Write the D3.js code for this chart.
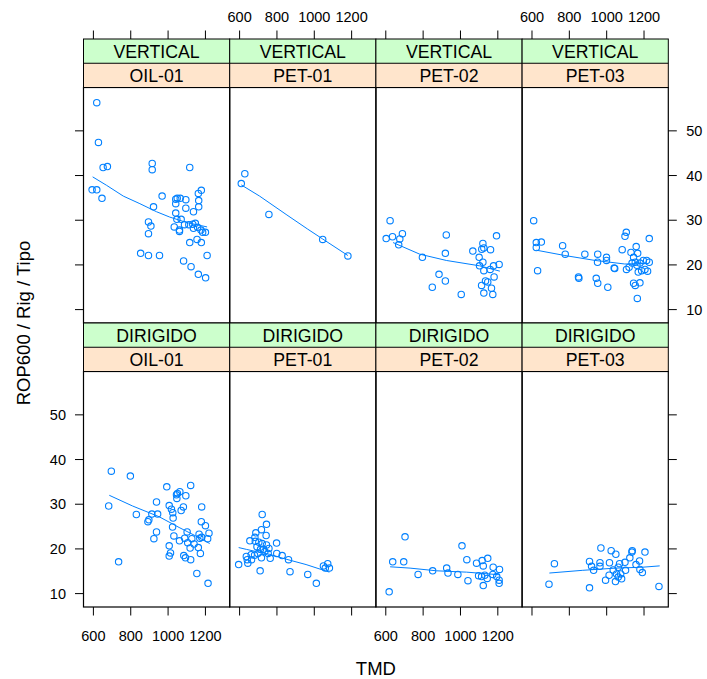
<!DOCTYPE html>
<html>
<head>
<meta charset="utf-8">
<script src="https://cdn.jsdelivr.net/npm/d3@7"></script>
<style>
  body { margin: 0; background: #fff; }
  text { font-family: "Liberation Sans", Arial, Helvetica, sans-serif; fill: #000; }
</style>
</head>
<body>
<svg id="main_chart" width="707" height="679"></svg>
<script>
const tipos = ['VERTICAL', 'DIRIGIDO'];
const rigs = ['OIL-01', 'PET-01', 'PET-02', 'PET-03'];
const x_ticks = [600, 800, 1000, 1200];
const y_ticks = [10, 20, 30, 40, 50];

// [TMD, ROP600]
const vertical_oil01 = [[618,56.3],[627,47.4],[652,41.8],[675,42.0],[593,36.8],[618,36.8],[646,34.9],[915,42.7],[915,41.3],[1116,41.8],
  [968,35.4],[922,33.0],[895,29.6],[908,28.7],[895,27.0],[853,22.6],[895,22.1],[954,22.1],[1041,34.7],[1049,34.9],[1065,34.9],[1095,34.6],
  [1041,33.7],[1095,32.7],[1162,36.0],[1178,36.7],[1164,34.4],[1164,33.0],[1136,31.9],[1041,31.6],[1047,30.2],[1070,30.2],[1033,28.5],
  [1061,27.8],[1061,27.5],[1088,29.0],[1111,29.0],[1132,29.1],[1146,29.3],[1136,28.2],[1158,28.4],[1176,27.8],[1185,27.3],[1200,27.3],
  [1116,25.0],[1155,25.7],[1178,25.0],[1209,22.1],[1083,20.9],[1123,19.6],[1162,17.9],[1201,17.1]];
const vertical_pet01 = [[628,40.4],[609,38.2],[757,31.3],[1045,25.7],[1180,22.0]];
const vertical_pet02 = [[623,29.9],[602,25.9],[636,26.3],[675,25.8],[689,27.0],[669,24.5],[796,21.7],[924,26.7],[919,22.6],[885,17.9],
  [919,16.4],[849,15.0],[1004,13.4],[1066,23.1],[1120,24.8],[1125,23.8],[1114,23.5],[1161,23.4],[1193,26.5],[1100,21.7],[1120,20.6],
  [1102,19.8],[1125,18.7],[1159,19.0],[1177,19.8],[1207,20.1],[1180,17.3],[1134,16.4],[1146,16.2],[1113,15.4],[1166,14.8],[1125,13.7],[1173,13.4]];
const vertical_pet03 = [[609,29.9],[623,25.0],[623,23.9],[650,25.1],[630,18.7],[764,24.3],[778,22.4],[883,22.4],[952,22.4],[951,20.6],
  [999,21.7],[999,21.0],[849,17.3],[851,17.0],[944,17.0],[952,15.9],[1006,15.0],[1040,19.3],[1043,19.2],[1083,23.4],[1098,26.4],[1105,27.3],
  [1158,24.1],[1130,22.8],[1166,22.6],[1144,21.7],[1136,20.4],[1153,20.6],[1162,19.9],[1106,19.0],[1120,19.5],[1169,18.4],[1187,18.7],
  [1205,19.0],[1214,21.0],[1228,20.6],[1219,18.6],[1196,21.0],[1178,20.4],[1228,25.9],[1144,15.9],[1153,15.4],[1178,16.0],[1164,12.5]];
const dirigido_oil01 = [[696,37.4],[682,29.6],[735,17.1],[798,36.3],[830,27.7],[892,26.1],[897,26.5],[913,27.8],[944,27.8],[938,30.5],
  [938,23.8],[924,22.3],[993,33.9],[1006,29.7],[1018,28.9],[1025,28.1],[1027,26.9],[1024,24.9],[1031,22.9],[1045,32.1],[1050,32.4],
  [1063,32.8],[1047,31.3],[1070,28.6],[1061,21.8],[1006,20.7],[1013,19.1],[1006,18.4],[1084,18.5],[1093,18.0],[1121,17.6],[1082,29.4],
  [1095,31.9],[1121,34.2],[1089,22.4],[1102,23.8],[1105,21.4],[1118,20.2],[1127,22.3],[1139,21.1],[1166,23.3],[1170,22.4],[1162,20.3],
  [1173,19.0],[1154,14.5],[1180,29.4],[1178,26.1],[1200,25.2],[1219,23.5],[1212,22.3],[1214,12.3],[1180,22.6]];
const dirigido_pet01 = [[721,27.7],[744,25.5],[717,24.3],[687,23.6],[742,23.0],[655,21.8],[682,22.6],[684,21.7],[798,21.3],[721,21.2],
  [744,20.9],[693,20.5],[712,19.9],[728,19.9],[757,20.1],[735,19.4],[753,19.0],[799,19.0],[828,18.5],[698,19.0],[680,18.6],[636,18.3],
  [641,17.6],[664,17.6],[717,18.0],[764,17.9],[862,17.6],[595,16.5],[644,16.8],[710,15.1],[870,14.9],[965,14.3],[1011,12.3],[1049,16.2],
  [1072,16.7],[1081,15.7],[1059,15.7],[662,18.7],[703,21.5]];
const dirigido_pet02 = [[703,22.7],[618,10.4],[637,17.1],[696,17.1],[773,14.3],[851,15.1],[926,15.7],[933,14.6],[986,14.3],[1008,20.7],
  [1034,17.6],[1040,12.9],[1086,16.8],[1116,17.4],[1146,17.9],[1122,16.2],[1175,15.9],[1209,15.4],[1097,14.0],[1113,13.8],[1143,13.4],
  [1122,11.8],[1173,14.3],[1194,13.8],[1207,13.0],[1207,12.3],[1130,14.1]];
const dirigido_pet03 = [[720,16.7],[691,12.1],[908,11.3],[908,17.2],[919,16.1],[930,15.2],[964,16.9],[964,16.1],[969,20.2],[1015,16.9],
  [1024,19.6],[1049,18.8],[994,13.0],[1013,14.1],[1035,15.3],[1053,14.4],[1047,12.7],[1062,13.7],[1080,13.3],[1069,16.7],[1062,15.9],
  [1098,17.0],[1101,15.2],[1124,18.0],[1137,19.6],[1135,19.3],[1157,16.5],[1176,17.3],[1178,15.4],[1191,14.7],[1205,19.3],[1280,11.6],[1075,14.4]];

// loess curves
const smooth_vertical = [
  [[596,39.7],[671,37.8],[760,35.4],[849,33.7],[938,31.9],[1009,30.7],[1098,29.5],[1209,28.5]],
  [[609,37.9],[707,35.4],[849,31.3],[965,28.0],[1045,25.8],[1180,22.1]],
  [[639,25.0],[782,22.4],[924,21.0],[1102,19.8],[1211,18.6]],
  [[623,23.3],[776,22.1],[938,21.0],[1097,20.2],[1218,20.3]]
];
const smooth_dirigido = [
  [[685,32.0],[810,29.6],[952,27.2],[1059,24.8],[1148,22.9],[1223,21.2]],
  [[595,20.3],[636,19.9],[689,19.4],[760,18.8],[849,17.7],[956,16.5],[1081,14.8]],
  [[623,16.0],[730,15.7],[872,15.1],[1033,14.8],[1211,14.2]],
  [[693,14.6],[869,15.2],[1048,15.7],[1191,15.9],[1284,16.2]]
];

const points = [
  [vertical_oil01, vertical_pet01, vertical_pet02, vertical_pet03],
  [dirigido_oil01, dirigido_pet01, dirigido_pet02, dirigido_pet03]
];
const smooths = [smooth_vertical, smooth_dirigido];

const svg = d3.select('#main_chart');
const left = 83.5, panel_w = 146.2, strip_h = 24.25, panel_h = 235.5, top0 = 39;
const row_top = function(r) { return top0 + r * (2 * strip_h + panel_h); };
const blue = '#0080ff';
const tick_len = 8.5;

const xScale = d3.scaleLinear().domain([547, 1330]).range([0, panel_w]);
const yScale = d3.scaleLinear().domain([7.0, 59.7]).range([panel_h, 0]);

tipos.forEach(function(tipo, r) {
  rigs.forEach(function(rig, c) {
    const px = left + c * panel_w;
    const py = row_top(r) + 2 * strip_h;
    const g = svg.append('g').attr('transform', 'translate(' + px + ',' + py + ')');

    // strips
    const sg = svg.append('g').attr('transform', 'translate(' + px + ',' + row_top(r) + ')');
    sg.append('rect').attr('width', panel_w).attr('height', strip_h).attr('fill', '#ccffcc');
    sg.append('rect').attr('y', strip_h).attr('width', panel_w).attr('height', strip_h).attr('fill', '#ffe5cc');
    sg.append('text').attr('x', panel_w / 2).attr('y', strip_h / 2 + 6.5).attr('text-anchor', 'middle')
      .style('font-size', '17.7px').text(tipo);
    sg.append('text').attr('x', panel_w / 2).attr('y', strip_h * 1.5 + 6.5).attr('text-anchor', 'middle')
      .style('font-size', '17.7px').text(rig);
    sg.append('rect').attr('width', panel_w).attr('height', strip_h * 2).attr('fill', 'none').attr('stroke', '#000');
    sg.append('line').attr('x1', 0).attr('x2', panel_w).attr('y1', strip_h).attr('y2', strip_h).attr('stroke', '#000');

    const line = d3.line().x(function(d) { return xScale(d[0]); }).y(function(d) { return yScale(d[1]); });
    g.append('path').datum(smooths[r][c]).attr('d', line).attr('fill', 'none').attr('stroke', blue).attr('stroke-width', 1);

    g.selectAll('circle').data(points[r][c]).enter().append('circle')
      .attr('cx', function(d) { return xScale(d[0]); })
      .attr('cy', function(d) { return yScale(d[1]); })
      .attr('r', 3.2).attr('fill', 'none').attr('stroke', blue).attr('stroke-width', 1.1);

    g.append('rect').attr('width', panel_w).attr('height', panel_h).attr('fill', 'none').attr('stroke', '#000').attr('stroke-width', 1.2);

    // x axis: top row gets top ticks, bottom row gets bottom ticks
    if (r === 0) {
      const ax = svg.append('g').attr('transform', 'translate(' + px + ',' + top0 + ')');
      ax.selectAll('line').data(x_ticks).enter().append('line')
        .attr('x1', function(d) { return xScale(d); }).attr('x2', function(d) { return xScale(d); })
        .attr('y1', 0).attr('y2', -tick_len).attr('stroke', '#000');
      if (c % 2 === 1) {
        ax.selectAll('text').data(x_ticks).enter().append('text')
          .attr('x', function(d) { return xScale(d); }).attr('y', -17.3).attr('text-anchor', 'middle')
          .style('font-size', '14.5px').text(function(d) { return d; });
      }
    } else {
      const ax = svg.append('g').attr('transform', 'translate(' + px + ',' + (py + panel_h) + ')');
      ax.selectAll('line').data(x_ticks).enter().append('line')
        .attr('x1', function(d) { return xScale(d); }).attr('x2', function(d) { return xScale(d); })
        .attr('y1', 0).attr('y2', tick_len).attr('stroke', '#000');
      if (c % 2 === 0) {
        ax.selectAll('text').data(x_ticks).enter().append('text')
          .attr('x', function(d) { return xScale(d); }).attr('y', 34).attr('text-anchor', 'middle')
          .style('font-size', '14.5px').text(function(d) { return d; });
      }
    }

    // y axis: left ticks on first column, right ticks on last column
    if (c === 0) {
      const ay = svg.append('g').attr('transform', 'translate(' + left + ',' + py + ')');
      ay.selectAll('line').data(y_ticks).enter().append('line')
        .attr('x1', 0).attr('x2', -tick_len)
        .attr('y1', function(d) { return yScale(d); }).attr('y2', function(d) { return yScale(d); }).attr('stroke', '#000');
      if (r === 1) {
        ay.selectAll('text').data(y_ticks).enter().append('text')
          .attr('x', -17.5).attr('y', function(d) { return yScale(d) + 5.2; }).attr('text-anchor', 'end')
          .style('font-size', '14.5px').text(function(d) { return d; });
      }
    }
    if (c === rigs.length - 1) {
      const ay = svg.append('g').attr('transform', 'translate(' + (px + panel_w) + ',' + py + ')');
      ay.selectAll('line').data(y_ticks).enter().append('line')
        .attr('x1', 0).attr('x2', tick_len)
        .attr('y1', function(d) { return yScale(d); }).attr('y2', function(d) { return yScale(d); }).attr('stroke', '#000');
      if (r === 0) {
        ay.selectAll('text').data(y_ticks).enter().append('text')
          .attr('x', 18).attr('y', function(d) { return yScale(d) + 5.2; }).attr('text-anchor', 'start')
          .style('font-size', '14.5px').text(function(d) { return d; });
      }
    }
  });
});

svg.append('text').attr('x', left + 2 * panel_w).attr('y', 675).attr('text-anchor', 'middle')
  .style('font-size', '18.5px').text('TMD');
svg.append('text').attr('transform', 'translate(30,323) rotate(-90)').attr('text-anchor', 'middle')
  .style('font-size', '18.5px').text('ROP600 / Rig / Tipo');
</script>
</body>
</html>
